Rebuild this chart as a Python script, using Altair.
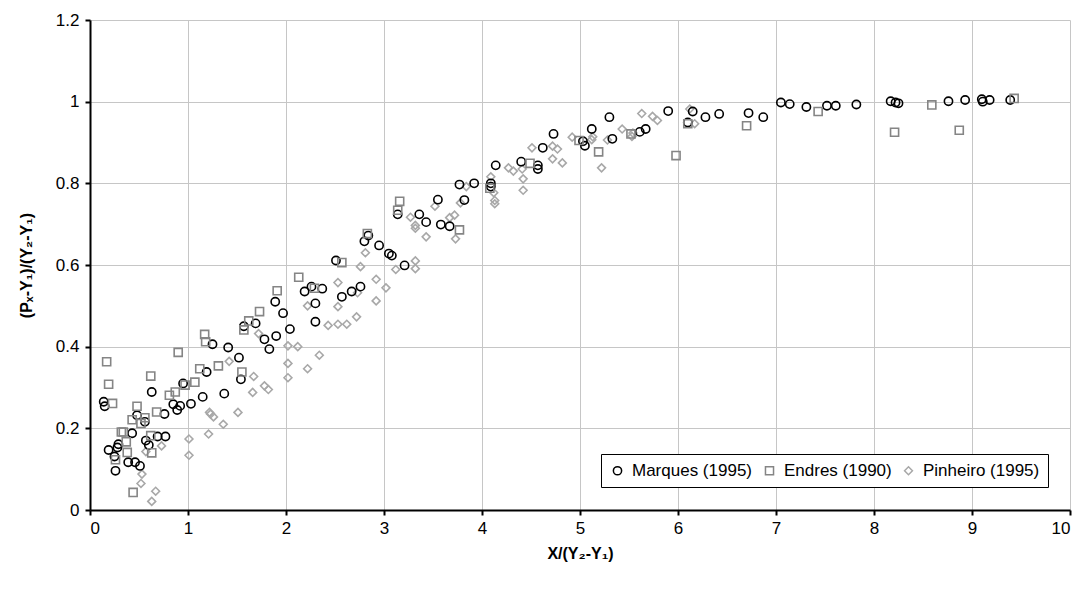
import altair as alt
import pandas as pd

# Marques (1995) - circles
marques_x = [0.14, 0.15, 0.19, 0.25, 0.26, 0.28, 0.29, 0.39, 0.43, 0.46, 0.48, 0.51, 0.56, 0.57, 0.60,
             0.63, 0.69, 0.76, 0.77, 0.85, 0.89, 0.92, 0.95, 1.03, 1.15, 1.19, 1.25, 1.37, 1.41, 1.52,
             1.54, 1.57, 1.69, 1.78, 1.83, 1.89, 1.90, 1.97, 2.04, 2.19, 2.26, 2.30, 2.30, 2.37, 2.51,
             2.57, 2.67, 2.76, 2.80, 2.84, 2.95, 3.05, 3.08, 3.14, 3.21, 3.36, 3.43, 3.55, 3.58, 3.67,
             3.77, 3.82, 3.92, 4.09, 4.09, 4.14, 4.40, 4.57, 4.57, 4.62, 4.73, 5.03, 5.05, 5.12, 5.30,
             5.33, 5.61, 5.67, 5.90, 6.10, 6.15, 6.28, 6.42, 6.72, 6.87, 7.05, 7.14, 7.31, 7.52, 7.61,
             7.82, 8.17, 8.22, 8.25, 8.76, 8.93, 9.10, 9.11, 9.18, 9.39]
marques_y = [0.265, 0.254, 0.147, 0.131, 0.096, 0.153, 0.161, 0.117, 0.188, 0.117, 0.232, 0.108, 0.216, 0.170, 0.159,
             0.289, 0.180, 0.235, 0.180, 0.259, 0.245, 0.255, 0.310, 0.260, 0.277, 0.338, 0.406, 0.285, 0.398, 0.373,
             0.320, 0.450, 0.457, 0.418, 0.394, 0.510, 0.426, 0.482, 0.443, 0.535, 0.547, 0.506, 0.461, 0.542, 0.611,
             0.522, 0.535, 0.547, 0.658, 0.672, 0.648, 0.628, 0.623, 0.724, 0.599, 0.724, 0.705, 0.760, 0.699, 0.695,
             0.797, 0.759, 0.800, 0.800, 0.792, 0.844, 0.853, 0.844, 0.835, 0.887, 0.921, 0.903, 0.892, 0.933, 0.962,
             0.909, 0.926, 0.933, 0.977, 0.949, 0.976, 0.962, 0.970, 0.972, 0.962, 0.998, 0.994, 0.987, 0.990, 0.990,
             0.993, 1.001, 0.998, 0.996, 1.001, 1.004, 1.006, 1.000, 1.004, 1.004]

# Endres (1990) - squares
endres_x = [0.17, 0.19, 0.23, 0.26, 0.32, 0.34, 0.37, 0.38, 0.43, 0.44, 0.48, 0.52, 0.56, 0.62, 0.62,
            0.63, 0.68, 0.81, 0.87, 0.90, 0.97, 1.07, 1.12, 1.17, 1.18, 1.31, 1.55, 1.57, 1.62, 1.73,
            1.91, 2.13, 2.29, 2.57, 2.83, 3.14, 3.16, 3.77, 4.08, 4.49, 4.99, 5.19, 5.52, 5.98, 6.10,
            6.70, 7.43, 8.21, 8.59, 8.87, 9.43]
endres_y = [0.363, 0.308, 0.261, 0.123, 0.191, 0.191, 0.167, 0.141, 0.221, 0.043, 0.254, 0.212, 0.226, 0.328, 0.182,
            0.140, 0.240, 0.281, 0.289, 0.386, 0.306, 0.313, 0.346, 0.430, 0.412, 0.353, 0.338, 0.441, 0.463, 0.486,
            0.537, 0.570, 0.543, 0.606, 0.677, 0.734, 0.756, 0.686, 0.788, 0.849, 0.905, 0.877, 0.921, 0.868, 0.946,
            0.941, 0.976, 0.925, 0.992, 0.930, 1.008]

# Pinheiro (1995) - diamonds
pinheiro_x = [0.52, 0.53, 0.57, 0.63, 0.67, 0.73, 1.01, 1.01, 1.21, 1.22, 1.23, 1.26, 1.36, 1.42, 1.51,
              1.66, 1.67, 1.72, 1.78, 1.82, 2.02, 2.02, 2.02, 2.12, 2.22, 2.22, 2.34, 2.43, 2.53, 2.53,
              2.53, 2.62, 2.72, 2.73, 2.76, 2.81, 2.92, 2.92, 3.02, 3.12, 3.27, 3.32, 3.32, 3.32, 3.32,
              3.43, 3.52, 3.67, 3.72, 3.73, 3.78, 3.84, 4.09, 4.12, 4.13, 4.13, 4.27, 4.32, 4.41, 4.42,
              4.42, 4.51, 4.72, 4.77, 4.72, 4.82, 4.92, 5.12, 5.13, 5.22, 5.28, 5.43, 5.53, 5.54, 5.63,
              5.74, 5.79, 6.12, 6.17]
pinheiro_y = [0.065, 0.088, 0.143, 0.021, 0.046, 0.157, 0.174, 0.134, 0.186, 0.239, 0.235, 0.228, 0.210, 0.364, 0.239,
              0.288, 0.327, 0.432, 0.304, 0.295, 0.402, 0.359, 0.324, 0.400, 0.346, 0.500, 0.379, 0.452, 0.455, 0.557,
              0.498, 0.455, 0.473, 0.532, 0.596, 0.630, 0.565, 0.512, 0.544, 0.589, 0.717, 0.610, 0.591, 0.697, 0.690,
              0.669, 0.744, 0.716, 0.722, 0.664, 0.752, 0.792, 0.816, 0.777, 0.758, 0.750, 0.838, 0.830, 0.835, 0.811,
              0.783, 0.887, 0.891, 0.884, 0.860, 0.850, 0.913, 0.907, 0.914, 0.838, 0.906, 0.933, 0.915, 0.923, 0.971,
              0.964, 0.954, 0.982, 0.946]

series_names = ["Marques (1995)", "Endres (1990)", "Pinheiro (1995)"]
x_ticks = [0, 1, 2, 3, 4, 5, 6, 7, 8, 9, 10]
y_ticks = [0, 0.2, 0.4, 0.6, 0.8, 1.0, 1.2]

frames = []
for name, xs, ys in zip(series_names,
                        [marques_x, endres_x, pinheiro_x],
                        [marques_y, endres_y, pinheiro_y]):
    frames.append(pd.DataFrame({"x": xs, "y": ys, "series": name}))
df = pd.concat(frames, ignore_index=True)

FONT = "Liberation Sans"

legend_cfg = dict(title=None, orient="none", direction="horizontal",
                  legendX=511, legendY=434, columns=3)

chart = alt.Chart(df).mark_point(filled=False, strokeWidth=1.6, opacity=1).encode(
    x=alt.X("x:Q",
            scale=alt.Scale(domain=[0, 10], nice=False, zero=False),
            axis=alt.Axis(values=x_ticks, title="X/(Y₂-Y₁)", format="d")),
    y=alt.Y("y:Q",
            scale=alt.Scale(domain=[0, 1.2], nice=False, zero=False),
            axis=alt.Axis(values=y_ticks, title="(Pₓ-Y₁)/(Y₂-Y₁)", format="~g")),
    shape=alt.Shape("series:N",
                    scale=alt.Scale(domain=series_names, range=["circle", "square", "diamond"]),
                    legend=alt.Legend(**legend_cfg)),
    color=alt.Color("series:N",
                    scale=alt.Scale(domain=series_names, range=["#000000", "#858585", "#a8a8a8"]),
                    legend=alt.Legend(**legend_cfg)),
    size=alt.Size("series:N",
                  scale=alt.Scale(domain=series_names, range=[68, 62, 95]),
                  legend=None),
    order=alt.Order("series:N", sort="descending"),
).properties(
    width=980,
    height=490,
    autosize=alt.AutoSizeParams(type="none"),
    padding={"left": 90, "top": 20, "right": 16, "bottom": 81},
).configure_view(
    stroke=None
).configure_axis(
    domainColor="#000000",
    domainWidth=2,
    tickColor="#000000",
    tickWidth=2,
    tickSize=5,
    gridColor="#c6c6c6",
    gridWidth=1,
    labelFont=FONT,
    labelFontSize=17,
    labelColor="#000000",
    titleFont=FONT,
    titleFontSize=16,
    titleFontWeight="bold",
    titleColor="#000000",
).configure_axisX(
    labelPadding=5,
    titlePadding=9,
).configure_axisY(
    labelPadding=6,
    titlePadding=21,
).configure_legend(
    fillColor="#ffffff",
    strokeColor="#000000",
    strokeWidth=1,
    padding=8,
    labelFont=FONT,
    labelFontSize=17,
    labelColor="#000000",
    symbolSize=40,
    symbolStrokeWidth=1.5,
    symbolType="circle",
    columnPadding=8,
    labelOffset=6,
    cornerRadius=0,
)

chart.save("out.html", embed_options={"renderer": "svg", "actions": False})
